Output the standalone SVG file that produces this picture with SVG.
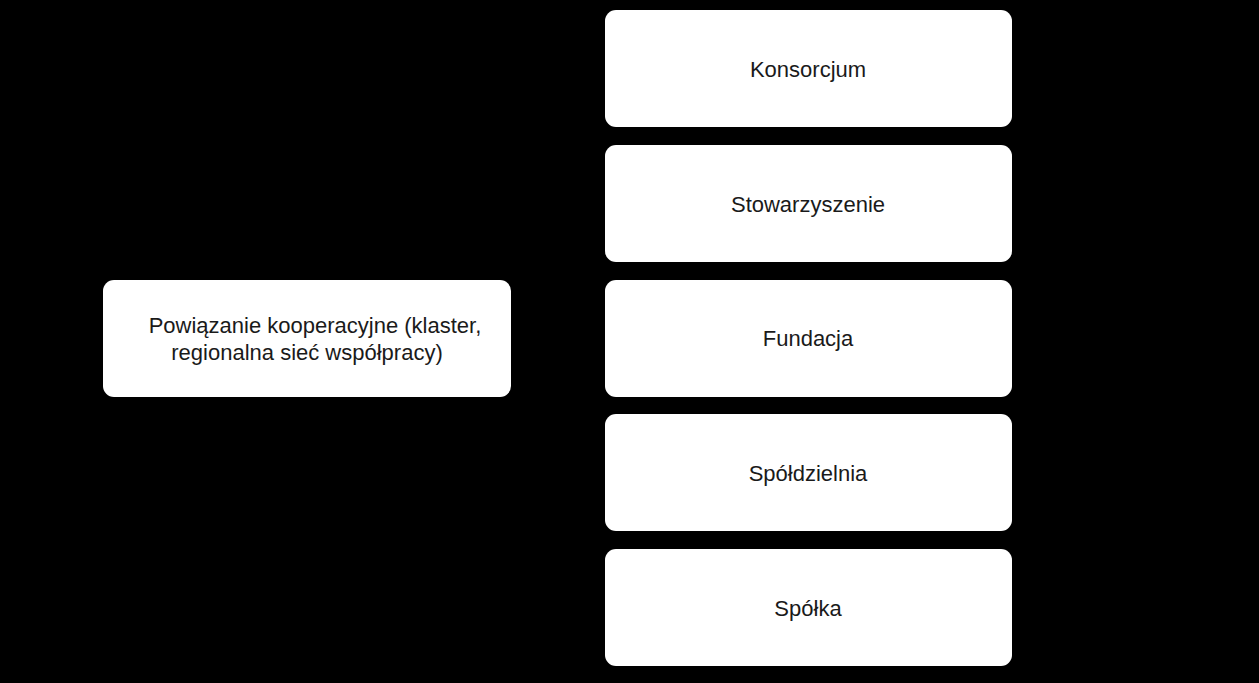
<svg xmlns="http://www.w3.org/2000/svg" width="1259" height="683" viewBox="0 0 1259 683">
<style>
.n{fill:#fff;stroke:none}
.t{font-family:"Liberation Sans",Arial,sans-serif;font-size:22px;fill:#1a1a1a;text-anchor:middle}
.c{stroke:#000;stroke-width:2;fill:none}
</style>
<rect width="1259" height="683" fill="#000"/>
<g id="connectors">
<path class="c" d="M511 338 H558 V68 H605"/>
<path class="c" d="M511 338 H558 V203 H605"/>
<path class="c" d="M511 338 H605"/>
<path class="c" d="M511 338 H558 V472 H605"/>
<path class="c" d="M511 338 H558 V607 H605"/>
</g>
<g id="root"><rect class="n" x="103" y="280" width="408" height="117" rx="11"/>
<text class="t" x="315" y="333">Powiązanie kooperacyjne (klaster,</text>
<text class="t" x="307" y="360">regionalna sieć współpracy)</text></g>
<g id="konsorcjum"><rect class="n" x="605" y="10" width="407" height="117" rx="11"/><text class="t" x="808" y="77">Konsorcjum</text></g>
<g id="stowarzyszenie"><rect class="n" x="605" y="145" width="407" height="117" rx="11"/><text class="t" x="808" y="212">Stowarzyszenie</text></g>
<g id="fundacja"><rect class="n" x="605" y="280" width="407" height="117" rx="11"/><text class="t" x="808" y="346">Fundacja</text></g>
<g id="spoldzielnia"><rect class="n" x="605" y="414" width="407" height="117" rx="11"/><text class="t" x="808" y="481">Spółdzielnia</text></g>
<g id="spolka"><rect class="n" x="605" y="549" width="407" height="117" rx="11"/><text class="t" x="808" y="616">Spółka</text></g>
</svg>
